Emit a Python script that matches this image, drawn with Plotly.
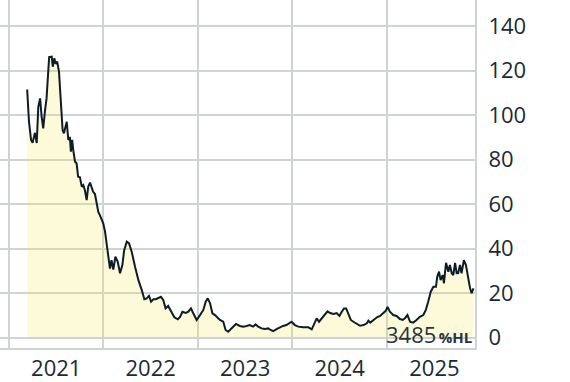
import plotly.graph_objects as go

dates = [
    "2021-03-12", "2021-03-19", "2021-03-27", "2021-04-02", "2021-04-11", "2021-04-18", "2021-04-24",
    "2021-05-01", "2021-05-07", "2021-05-13", "2021-05-20", "2021-05-26", "2021-06-01", "2021-06-05",
    "2021-06-15", "2021-06-19", "2021-06-25", "2021-06-30", "2021-07-06", "2021-07-13", "2021-07-17",
    "2021-07-23", "2021-07-27", "2021-08-01", "2021-08-05", "2021-08-12", "2021-08-18", "2021-08-24",
    "2021-08-28", "2021-09-02", "2021-09-06", "2021-09-13", "2021-09-19", "2021-09-25", "2021-10-02",
    "2021-10-09", "2021-10-15", "2021-10-21", "2021-10-28", "2021-11-03", "2021-11-10", "2021-11-16",
    "2021-11-22", "2021-11-29", "2021-12-06", "2021-12-12", "2021-12-18", "2021-12-25", "2021-12-31",
    "2022-01-07", "2022-01-13", "2022-01-19", "2022-01-26", "2022-02-01", "2022-02-08", "2022-02-16",
    "2022-02-25", "2022-03-06", "2022-03-15", "2022-03-22", "2022-04-01", "2022-04-10", "2022-04-20",
    "2022-05-03", "2022-05-16", "2022-05-29", "2022-06-08", "2022-06-17", "2022-06-26", "2022-07-04",
    "2022-07-13", "2022-07-22", "2022-08-01", "2022-08-11", "2022-08-20", "2022-08-29", "2022-09-08",
    "2022-09-19", "2022-10-02", "2022-10-15", "2022-10-24", "2022-11-02", "2022-11-15", "2022-11-25",
    "2022-12-05", "2022-12-14", "2022-12-27", "2023-01-09", "2023-01-22", "2023-01-31", "2023-02-08",
    "2023-02-17", "2023-02-26", "2023-03-08", "2023-03-14", "2023-03-27", "2023-04-09", "2023-04-18",
    "2023-04-28", "2023-05-11", "2023-05-28", "2023-06-12", "2023-06-25", "2023-07-08", "2023-07-21",
    "2023-08-02", "2023-08-12", "2023-08-22", "2023-09-04", "2023-09-17", "2023-09-30", "2023-10-09",
    "2023-10-19", "2023-11-01", "2023-11-14", "2023-11-26", "2023-12-09", "2023-12-22", "2023-12-29",
    "2024-01-11", "2024-01-24", "2024-02-12", "2024-03-03", "2024-03-16", "2024-03-26", "2024-04-04",
    "2024-04-13", "2024-04-24", "2024-05-06", "2024-05-16", "2024-05-26", "2024-06-08", "2024-06-20",
    "2024-07-01", "2024-07-10", "2024-07-19", "2024-07-27", "2024-08-05", "2024-08-14", "2024-08-24",
    "2024-09-06", "2024-09-19", "2024-10-02", "2024-10-15", "2024-10-21", "2024-10-28", "2024-11-10",
    "2024-11-23", "2024-12-05", "2024-12-18", "2024-12-27", "2025-01-03", "2025-01-12", "2025-01-25",
    "2025-02-07", "2025-02-20", "2025-03-03", "2025-03-12", "2025-03-21", "2025-03-31", "2025-04-12",
    "2025-04-25", "2025-05-08", "2025-05-21", "2025-05-31", "2025-06-09", "2025-06-19", "2025-06-29",
    "2025-07-09", "2025-07-14", "2025-07-21", "2025-07-27", "2025-08-04", "2025-08-09", "2025-08-17",
    "2025-08-26", "2025-09-01", "2025-09-08", "2025-09-14", "2025-09-21", "2025-09-27", "2025-10-03",
    "2025-10-10", "2025-10-16", "2025-10-25", "2025-11-02", "2025-11-09", "2025-11-18", "2025-11-24",
    "2025-12-01",
]

values = [
    111.5, 97.0, 88.8, 87.5, 92.0, 87.4, 103.7,
    107.5, 99.2, 94.0, 102.0, 107.6, 118.7, 126.0,
    126.2, 121.7, 125.5, 123.0, 124.0, 119.5, 112.0,
    97.8, 93.3, 91.8, 94.0, 97.0, 88.8, 90.2,
    83.5, 88.8, 84.3, 79.0, 78.3, 72.3, 72.0,
    67.8, 68.5, 66.3, 61.8, 67.8, 69.6, 67.0,
    65.5, 64.5, 60.3, 56.5, 55.0, 52.8, 51.3,
    47.6, 42.0, 36.0, 31.0, 34.8, 30.5, 36.3,
    34.0, 28.9, 32.6, 39.3, 43.1, 42.3, 38.6,
    31.8, 25.8, 21.3, 17.2, 17.6, 18.7, 16.1,
    17.2, 17.2, 17.6, 18.3, 16.9, 13.1, 14.2,
    11.6, 9.1, 8.2, 9.3, 11.6, 11.1, 11.6,
    13.1, 10.9, 7.9, 10.1, 12.4, 16.1, 17.6,
    15.4, 10.9, 10.1, 9.3, 7.9, 7.1, 3.4,
    2.6, 4.1, 6.1, 5.2, 4.9, 5.2, 5.6,
    4.9, 5.9, 4.9, 4.1, 3.8, 4.1, 3.4,
    2.9, 3.8, 4.6, 5.2, 5.6, 6.7, 7.1,
    5.6, 4.9, 4.6, 4.6, 3.7, 6.4, 8.6,
    7.1, 8.6, 10.1, 11.8, 11.0, 10.6, 11.0,
    9.7, 11.6, 13.1, 13.1, 10.1, 7.9, 7.1,
    6.1, 5.3, 5.6, 6.4, 7.6, 6.7, 7.9,
    9.1, 9.7, 10.9, 12.0, 13.8, 11.6, 10.1,
    9.7, 8.3, 7.9, 8.8, 10.1, 7.1, 6.7,
    7.9, 9.3, 10.1, 12.4, 16.1, 20.6, 22.8,
    22.8, 27.3, 29.6, 25.8, 28.1, 24.4, 33.6,
    29.6, 32.6, 28.9, 28.1, 33.6, 28.9, 29.0,
    32.6, 28.9, 34.8, 32.6, 27.3, 22.1, 19.9,
    22.1,
]

last_value_label = "3485"
unit_label = "%HL"

grid = "#d0d3d4"
text_col = "#1b2a35"

fig = go.Figure()
fig.add_trace(go.Scatter(
    x=dates, y=values, mode="lines",
    line=dict(color="#0e1c26", width=2),
    fill="tozeroy", fillcolor="rgba(245,230,70,0.2)",
    hoverinfo="skip",
))

fig.update_layout(
    width=570, height=382,
    margin=dict(l=0, r=95, t=0, b=34),
    plot_bgcolor="white", paper_bgcolor="white",
    showlegend=False,
    font=dict(family="Open Sans", color=text_col, size=22),
)
fig.update_xaxes(
    type="date", range=["2020-11-27", "2025-12-07"],
    dtick="M12", tick0="2021-01-01", tickformat="%Y", ticklabelmode="period",
    showgrid=True, gridcolor=grid, gridwidth=2,
    showline=True, linecolor=grid, linewidth=2,
    ticks="", zeroline=False,
)
fig.update_yaxes(
    side="right", range=[-4.7, 151.7], dtick=20, tick0=0,
    showgrid=True, gridcolor=grid, gridwidth=2,
    showline=True, linecolor=grid, linewidth=2,
    ticks="", zeroline=False, ticklabelstandoff=7,
)
fig.add_annotation(
    xref="paper", yref="paper", x=474 / 475, y=0,
    xanchor="right", yanchor="bottom", showarrow=False, yshift=-3,
    text=last_value_label + "<b><span style='font-size:15px'>\u2009" + unit_label + "</span></b>",
    font=dict(size=22, color="#27343d", family="Open Sans"),
)

fig.write_html("out.html")
